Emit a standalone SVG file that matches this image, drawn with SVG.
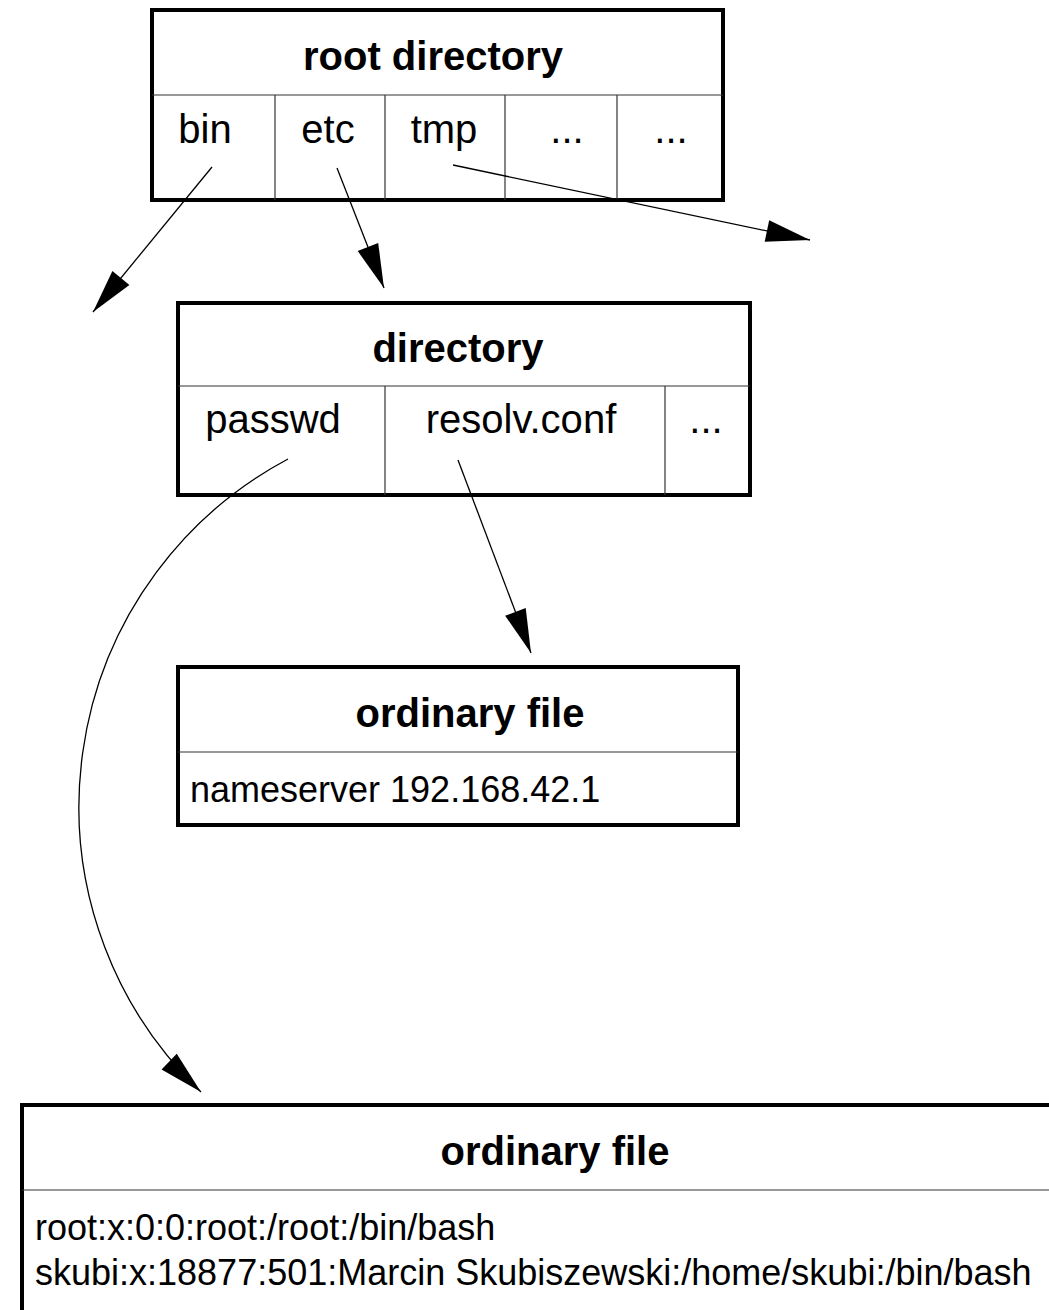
<svg xmlns="http://www.w3.org/2000/svg" width="1049" height="1310" viewBox="0 0 1049 1310">
  <style>
    .box { fill: #ffffff; stroke: #000000; stroke-width: 4; }
    .div { fill: none; stroke: #333333; stroke-width: 1.2; }
    .title { font-family: "Liberation Sans", Arial, sans-serif; font-weight: bold; font-size: 40px; fill: #000; text-anchor: middle; }
    .cell { font-family: "Liberation Sans", Arial, sans-serif; font-size: 40px; fill: #000; text-anchor: middle; }
    .line { font-family: "Liberation Sans", Arial, sans-serif; font-size: 36px; fill: #000; }
    .conn { fill: none; stroke: #000000; stroke-width: 1.3; marker-end: url(#arrow); }
  </style>
  <defs>
    <marker id="arrow" markerUnits="userSpaceOnUse" viewBox="-46 -13 48 26" markerWidth="48" markerHeight="26" refX="0" refY="0" orient="auto">
      <path d="M0,0 L-44,-11 L-44,11 Z" fill="#000000"/>
    </marker>
  </defs>
  <rect width="1049" height="1310" fill="#ffffff"/>

  <g id="root-directory">
    <rect class="box" x="152" y="10" width="571" height="190"/>
    <line class="div" x1="152" y1="95" x2="723" y2="95"/>
    <line class="div" x1="275" y1="95" x2="275" y2="200"/>
    <line class="div" x1="385" y1="95" x2="385" y2="200"/>
    <line class="div" x1="505" y1="95" x2="505" y2="200"/>
    <line class="div" x1="617" y1="95" x2="617" y2="200"/>
    <text class="title" x="433" y="70">root directory</text>
    <text class="cell" x="205" y="143">bin</text>
    <text class="cell" x="328" y="143">etc</text>
    <text class="cell" x="444" y="143">tmp</text>
    <text class="cell" x="567" y="143">...</text>
    <text class="cell" x="671" y="143">...</text>
  </g>

  <g id="directory">
    <rect class="box" x="178" y="303" width="572" height="192"/>
    <line class="div" x1="178" y1="386" x2="750" y2="386"/>
    <line class="div" x1="385" y1="386" x2="385" y2="495"/>
    <line class="div" x1="665" y1="386" x2="665" y2="495"/>
    <text class="title" x="458" y="362">directory</text>
    <text class="cell" x="273" y="433">passwd</text>
    <text class="cell" x="521" y="433">resolv.co<tspan>.</tspan><tspan dx="-11">nf</tspan></text>
    <text class="cell" x="706" y="433">...</text>
  </g>

  <g id="ordinary-file-resolv">
    <rect class="box" x="178" y="667" width="560" height="158"/>
    <line class="div" x1="178" y1="752" x2="738" y2="752"/>
    <text class="title" x="470" y="727">ordinary file</text>
    <text class="line" x="190" y="802">nameserver 192.168.42.1</text>
  </g>

  <g id="ordinary-file-passwd">
    <rect class="box" x="22" y="1105" width="1060" height="240"/>
    <line class="div" x1="22" y1="1190" x2="1049" y2="1190"/>
    <text class="title" x="555" y="1165">ordinary file</text>
    <text class="line" x="35" y="1240">root:x:0:0:root:/root:/bin/bash</text>
    <text class="line" x="35" y="1285">skubi:x:18877:501:Marcin Skubiszewski:/home/skubi:/bin/bash</text>
  </g>

  <g id="connectors">
    <line class="conn" x1="212" y1="167" x2="93" y2="312"/>
    <line class="conn" x1="337" y1="168" x2="384" y2="288"/>
    <line class="conn" x1="453" y1="165" x2="810" y2="240"/>
    <line class="conn" x1="458" y1="460" x2="531" y2="653"/>
    <path class="conn" d="M 288 459 A 394 394 0 0 0 201 1092"/>
  </g>
</svg>
